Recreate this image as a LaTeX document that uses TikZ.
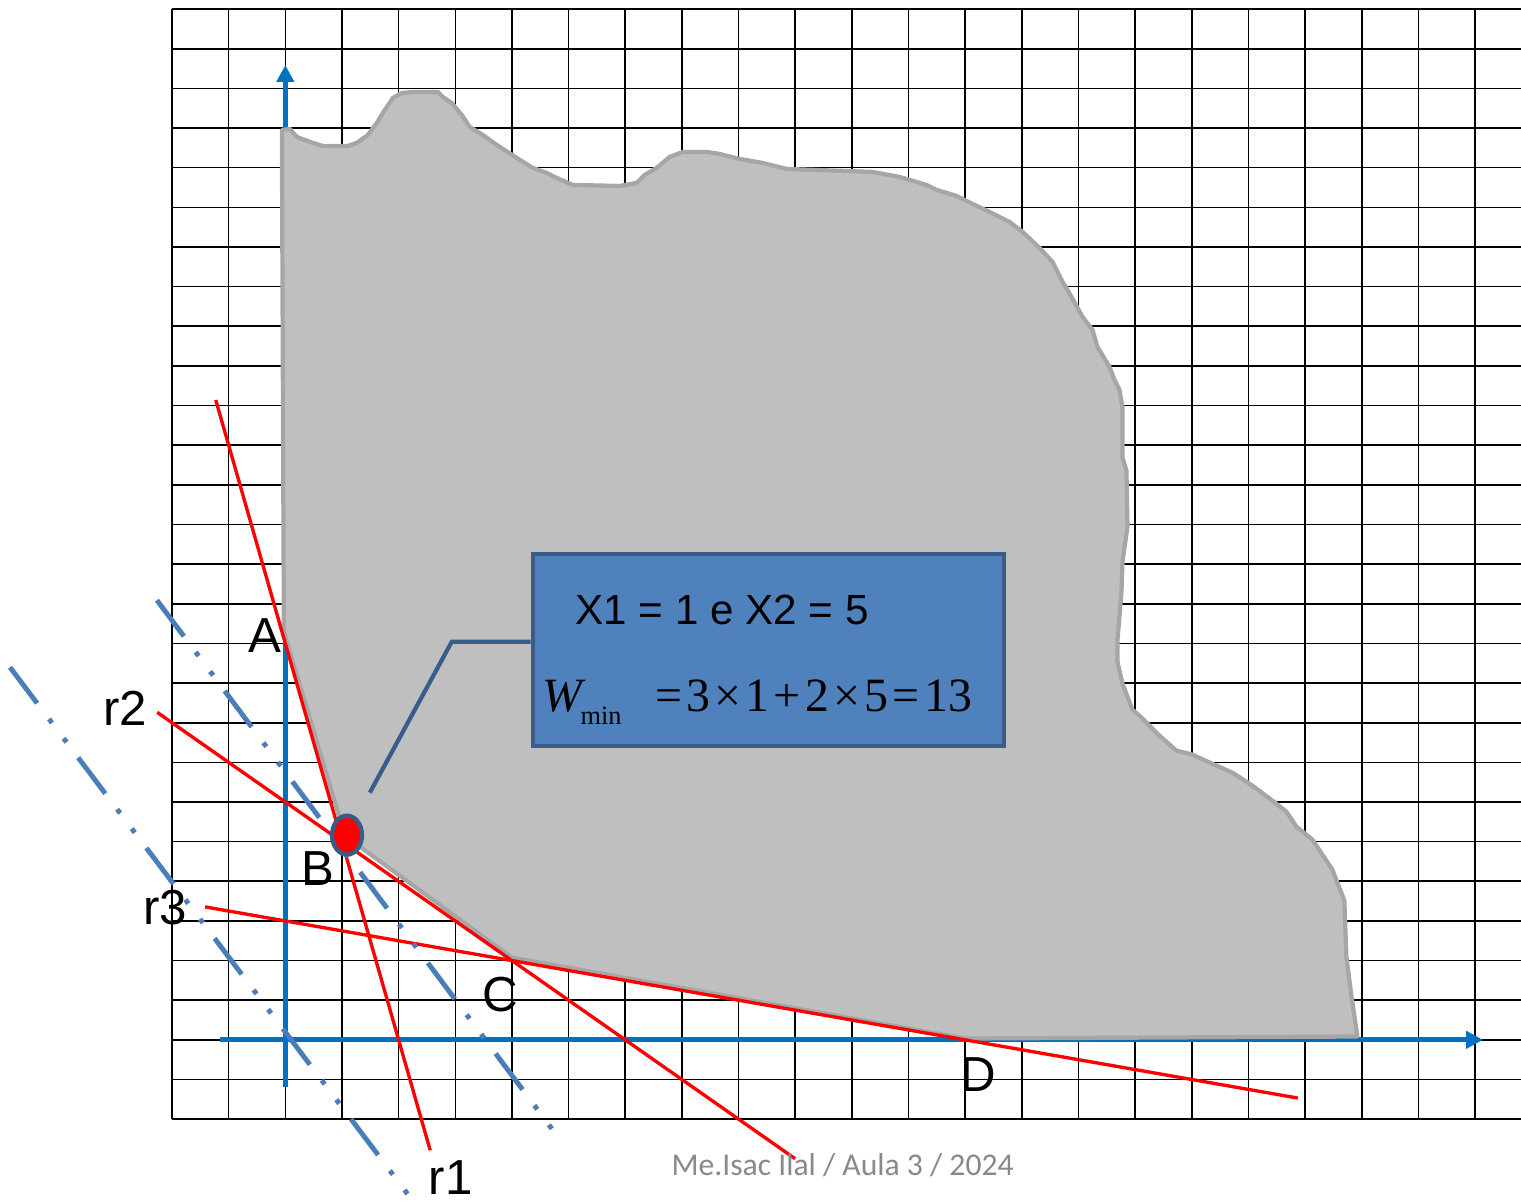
\documentclass[tikz,border=0pt]{standalone}
\usepackage{fontspec}
\setmainfont{Liberation Sans}
\newfontfamily\fmlfont{Liberation Serif}
\newfontfamily\notefont{Carlito}
\usetikzlibrary{calc,arrows.meta,shapes.geometric}
\definecolor{axisblue}{HTML}{0070C0}
\definecolor{isoblue}{HTML}{4A7EBB}
\definecolor{boxblue}{HTML}{4F81BD}
\definecolor{boxedge}{HTML}{385D8A}
\definecolor{regfill}{HTML}{BFBFBF}
\definecolor{regedge}{HTML}{A6A6A6}
\definecolor{notegray}{HTML}{898989}
\newcommand{\lblsize}{\fontsize{14pt}{16pt}\selectfont}
\newcommand{\fmlgap}{\kern.09em}

\tikzset{
  gridline/.style={black, line width=0.45pt},
  axisline/.style={axisblue, line width=1.4pt, -{Triangle[length=4.8pt,width=4.8pt]}},
  redline/.style={red, line width=0.95pt},
  isoline/.style={isoblue, line width=1.4pt, dash pattern=on 12.8pt off 5.6pt on 1.4pt off 5.5pt on 1.4pt off 5.5pt},
  region/.style={fill=regfill, draw=regedge, line width=1.2pt, line join=round},
  optdot/.style={ellipse, fill=red, draw=boxedge, line width=1.2pt, minimum width=0.30cm, minimum height=0.39cm, inner sep=0pt},
  solbox/.style={rectangle, fill=boxblue, draw=boxedge, line width=1.2pt, minimum width=4.71cm, minimum height=1.92cm, inner sep=0pt},
  lbl/.style={inner sep=0pt, font=\lblsize},
  boxtext/.style={inner sep=0pt, anchor=base west},
  pix/.style={shift={(-5.036,26.23)}, x=0.01cm, y=-0.01cm},
}

\begin{document}
\begin{tikzpicture}[x=0.5665cm, y=0.3964cm]
\useasboundingbox (-5.036,-4.044) rectangle (21.81,26.23);
% grid paper
\foreach \i in {-2,...,21} \draw[gridline] (\i,-2) -- (\i,26);
\foreach \j in {-2,...,26} \draw[gridline] (-2,\j) -- (21.81,\j);
% axes
\draw[axisline] (-1.16,0) -- (21.14,0);
\draw[axisline] (0,-1.19) -- (0,24.59);
% vertices
\coordinate (A) at (0,10);
\coordinate (B) at (1,5);
\coordinate (C) at (4,2);
\coordinate (D) at (12,0);
% feasible region (pixel coordinates)
\begin{scope}[pix]
\draw[region] (282,130) -- (290,129) -- (297,137) -- (313,143) -- (323,146) -- (348,146) -- (357,143) -- (368,135)
  -- (377,123) -- (383,113) -- (393,98) -- (402,93) -- (413,92) -- (438,92) -- (443,97) -- (452,103) -- (462,115)
  -- (470,127) -- (483,135) -- (497,145) -- (517,158) -- (533,168) -- (547,173) -- (557,178) -- (573,185)
  -- (620,186) -- (637,183) -- (645,175) -- (657,168) -- (670,157) -- (683,152) -- (707,152) -- (720,154)
  -- (740,159) -- (763,163) -- (787,169) -- (873,172) -- (900,177) -- (927,185) -- (937,190) -- (957,196)
  -- (973,204) -- (990,212) -- (1010,222) -- (1023,232) -- (1040,248) -- (1053,262) -- (1063,282) -- (1072,297)
  -- (1083,317) -- (1093,330) -- (1098,347) -- (1110,367) -- (1115,380) -- (1120,390) -- (1123,407) -- (1123,458)
  -- (1127,471) -- (1128,527) -- (1123,562) -- (1122,593) -- (1118,640) -- (1118,662) -- (1123,684) -- (1133,710)
  -- (1140,716) -- (1160,736) -- (1177,751) -- (1193,755) -- (1217,766) -- (1233,773) -- (1253,786) -- (1273,801)
  -- (1287,812) -- (1297,827) -- (1313,840) -- (1333,870) -- (1345,901) -- (1347,957) -- (1352,996) -- (1358,1037)
  -- (965,1039) -- (512,958) -- (345,836) -- (284,632) -- cycle;
\end{scope}
% constraints r1, r2, r3
\draw[redline] ($(A)!-1.228!(B)$) -- ($(A)!2.557!(B)$);
\draw[redline] ($(B)!-1.087!(C)$) -- ($(B)!2.666!(C)$);
\draw[redline] ($(C)!-0.677!(D)$) -- ($(C)!1.734!(D)$);
% objective lines
\draw[isoline] (-2.266,11.09) -- (4.76,-2.35);
\draw[isoline] (-4.859,9.397) -- (2.201,-3.97);
% optimum
\node[optdot] (opt) at (1.089,5.164) {};
\begin{scope}[pix]
\node[solbox] (sol) at (768.5,650) {};
\node[boxtext, font=\fontsize{12pt}{14pt}\selectfont] (xval) at (575,625) {X1 = 1 e X2 = 5};
\node[boxtext, font=\fmlfont\fontsize{13.6pt}{16pt}\selectfont] (wval) at (542,712)
  {\textit{W}\kern-1.5pt\raisebox{-3.7pt}{\fontsize{7.5pt}{9pt}\selectfont min}\hspace{9.5pt}=\fmlgap3\fmlgap×\fmlgap1\fmlgap+\fmlgap2\fmlgap×\fmlgap5\fmlgap=\fmlgap13};
\coordinate (bend) at (452,642);
\coordinate (tip) at (370,793);
\draw[boxedge, line width=1.2pt] (sol.west |- bend) -- (bend) -- (tip);
% labels
\node[lbl] (labA) at (265,636) {A};
\node[lbl] (labB) at (318,869) {B};
\node[lbl] (labC) at (500,995) {C};
\node[lbl] (labD) at (979,1075) {D};
\node[lbl] (labr1) at (451,1178) {r1};
\node[lbl] (labr2) at (125,709) {r2};
\node[lbl] (labr3) at (165,908) {r3};
\node[inner sep=0pt, text=notegray, font=\notefont\fontsize{9pt}{11pt}\selectfont] (note) at (843,1166) {Me.Isac Ilal / Aula 3 / 2024};
\end{scope}
\end{tikzpicture}
\end{document}
